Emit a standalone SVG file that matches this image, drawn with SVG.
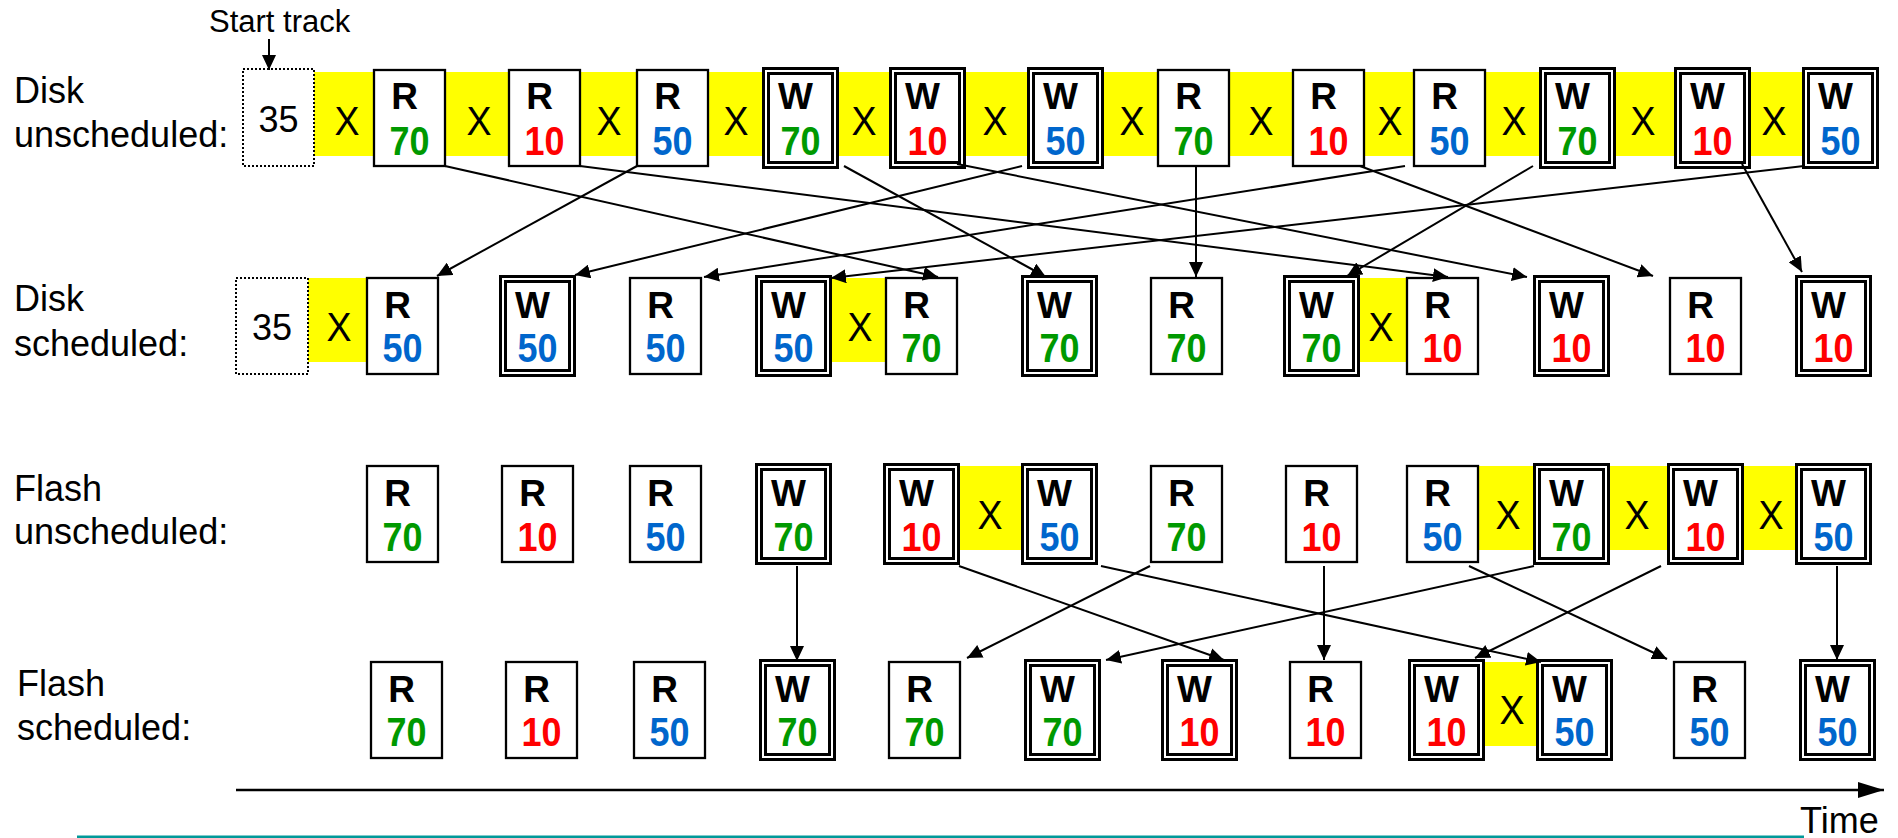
<svg xmlns="http://www.w3.org/2000/svg" width="1898" height="838" viewBox="0 0 1898 838">
<defs>
<marker id="ah" markerUnits="userSpaceOnUse" markerWidth="15" markerHeight="14" refX="15" refY="7" orient="auto"><path d="M0,0 L15,7 L0,14 z" fill="#000"/></marker>
<marker id="ahT" markerUnits="userSpaceOnUse" markerWidth="26" markerHeight="16" refX="26" refY="8" orient="auto"><path d="M0,0 L26,8 L0,16 z" fill="#000"/></marker>
</defs>
<style>
.lbl{font-family:"Liberation Sans",Arial,sans-serif;font-size:36px;fill:#000}
.st{font-size:31px}
.rb{fill:#fff;stroke:#000;stroke-width:2.3}
.wo{fill:#fff;stroke:#000;stroke-width:8}
.wi{fill:none;stroke:#fff;stroke-width:2}
.dot{fill:#fff;stroke:#000;stroke-width:2;stroke-dasharray:2 2}
.yl{fill:#ffff00}
.op{font-family:"Liberation Sans",Arial,sans-serif;font-weight:bold;font-size:37px;text-anchor:middle;fill:#000}
.num{font-family:"Liberation Sans",Arial,sans-serif;font-weight:bold;font-size:40px;text-anchor:middle}
.g{fill:#009900}.r{fill:#ff0000}.b{fill:#0066cc}
.x{font-family:"Liberation Sans",Arial,sans-serif;font-size:40px;text-anchor:middle;fill:#000}
.n35{font-family:"Liberation Sans",Arial,sans-serif;font-size:36px;text-anchor:middle;fill:#000}
.cn{stroke:#000;stroke-width:2;fill:none;marker-end:url(#ah)}
</style>
<rect width="1898" height="838" fill="#fff"/>

<g id="labels">
<text class="lbl st" x="209" y="32">Start track</text>
<text class="lbl" x="14" y="103">Disk</text>
<text class="lbl" x="14" y="147">unscheduled:</text>
<text class="lbl" x="14" y="311">Disk</text>
<text class="lbl" x="14" y="356">scheduled:</text>
<text class="lbl" x="14" y="501">Flash</text>
<text class="lbl" x="14" y="544">unscheduled:</text>
<text class="lbl" x="17" y="696">Flash</text>
<text class="lbl" x="17" y="740">scheduled:</text>
<text class="lbl" x="1800" y="833">Time</text>
</g>

<g id="seeks">
<rect class="yl" x="314" y="72" width="1565" height="84"/>
<rect class="yl" x="308" y="278" width="59" height="84"/>
<rect class="yl" x="832" y="278" width="54" height="84"/>
<rect class="yl" x="1360" y="278" width="47" height="84"/>
<rect class="yl" x="960" y="466" width="61" height="84"/>
<rect class="yl" x="1478" y="466" width="317" height="84"/>
<rect class="yl" x="1485" y="662" width="51" height="84"/>
<text class="x" x="347" y="135" textLength="25" lengthAdjust="spacingAndGlyphs">X</text>
<text class="x" x="479" y="135" textLength="25" lengthAdjust="spacingAndGlyphs">X</text>
<text class="x" x="609" y="135" textLength="25" lengthAdjust="spacingAndGlyphs">X</text>
<text class="x" x="736" y="135" textLength="25" lengthAdjust="spacingAndGlyphs">X</text>
<text class="x" x="864" y="135" textLength="25" lengthAdjust="spacingAndGlyphs">X</text>
<text class="x" x="995" y="135" textLength="25" lengthAdjust="spacingAndGlyphs">X</text>
<text class="x" x="1132" y="135" textLength="25" lengthAdjust="spacingAndGlyphs">X</text>
<text class="x" x="1261" y="135" textLength="25" lengthAdjust="spacingAndGlyphs">X</text>
<text class="x" x="1390" y="135" textLength="25" lengthAdjust="spacingAndGlyphs">X</text>
<text class="x" x="1514" y="135" textLength="25" lengthAdjust="spacingAndGlyphs">X</text>
<text class="x" x="1643" y="135" textLength="25" lengthAdjust="spacingAndGlyphs">X</text>
<text class="x" x="1774" y="135" textLength="25" lengthAdjust="spacingAndGlyphs">X</text>
<text class="x" x="339" y="341" textLength="25" lengthAdjust="spacingAndGlyphs">X</text>
<text class="x" x="860" y="341" textLength="25" lengthAdjust="spacingAndGlyphs">X</text>
<text class="x" x="1381" y="341" textLength="25" lengthAdjust="spacingAndGlyphs">X</text>
<text class="x" x="990" y="529" textLength="25" lengthAdjust="spacingAndGlyphs">X</text>
<text class="x" x="1508" y="529" textLength="25" lengthAdjust="spacingAndGlyphs">X</text>
<text class="x" x="1637" y="529" textLength="25" lengthAdjust="spacingAndGlyphs">X</text>
<text class="x" x="1771" y="529" textLength="25" lengthAdjust="spacingAndGlyphs">X</text>
<text class="x" x="1512" y="724" textLength="25" lengthAdjust="spacingAndGlyphs">X</text>
</g>

<g id="start1"><rect class="dot" x="243" y="69" width="71" height="97"/><text class="n35" x="278.5" y="132">35</text></g>
<g id="start2"><rect class="dot" x="236" y="278" width="72" height="96"/><text class="n35" x="272" y="340">35</text></g>

<!-- Row 1: Disk unscheduled -->
<g id="d1-1"><rect class="rb" x="374" y="70" width="71" height="96"/><text class="op" x="404.5" y="109">R</text><text class="num g" x="409.5" y="155" textLength="40" lengthAdjust="spacingAndGlyphs">70</text></g>
<g id="d1-2"><rect class="rb" x="509" y="70" width="71" height="96"/><text class="op" x="539.5" y="109">R</text><text class="num r" x="544.5" y="155" textLength="40" lengthAdjust="spacingAndGlyphs">10</text></g>
<g id="d1-3"><rect class="rb" x="637" y="70" width="71" height="96"/><text class="op" x="667.5" y="109">R</text><text class="num b" x="672.5" y="155" textLength="40" lengthAdjust="spacingAndGlyphs">50</text></g>
<g id="d1-4"><rect class="wo" x="766" y="71" width="69" height="94"/><rect class="wi" x="766" y="71" width="69" height="94"/><text class="op" x="795.5" y="109">W</text><text class="num g" x="800.5" y="155" textLength="40" lengthAdjust="spacingAndGlyphs">70</text></g>
<g id="d1-5"><rect class="wo" x="893" y="71" width="69" height="94"/><rect class="wi" x="893" y="71" width="69" height="94"/><text class="op" x="922.5" y="109">W</text><text class="num r" x="927.5" y="155" textLength="40" lengthAdjust="spacingAndGlyphs">10</text></g>
<g id="d1-6"><rect class="wo" x="1031" y="71" width="69" height="94"/><rect class="wi" x="1031" y="71" width="69" height="94"/><text class="op" x="1060.5" y="109">W</text><text class="num b" x="1065.5" y="155" textLength="40" lengthAdjust="spacingAndGlyphs">50</text></g>
<g id="d1-7"><rect class="rb" x="1158" y="70" width="71" height="96"/><text class="op" x="1188.5" y="109">R</text><text class="num g" x="1193.5" y="155" textLength="40" lengthAdjust="spacingAndGlyphs">70</text></g>
<g id="d1-8"><rect class="rb" x="1293" y="70" width="71" height="96"/><text class="op" x="1323.5" y="109">R</text><text class="num r" x="1328.5" y="155" textLength="40" lengthAdjust="spacingAndGlyphs">10</text></g>
<g id="d1-9"><rect class="rb" x="1414" y="70" width="71" height="96"/><text class="op" x="1444.5" y="109">R</text><text class="num b" x="1449.5" y="155" textLength="40" lengthAdjust="spacingAndGlyphs">50</text></g>
<g id="d1-10"><rect class="wo" x="1543" y="71" width="69" height="94"/><rect class="wi" x="1543" y="71" width="69" height="94"/><text class="op" x="1572.5" y="109">W</text><text class="num g" x="1577.5" y="155" textLength="40" lengthAdjust="spacingAndGlyphs">70</text></g>
<g id="d1-11"><rect class="wo" x="1678" y="71" width="69" height="94"/><rect class="wi" x="1678" y="71" width="69" height="94"/><text class="op" x="1707.5" y="109">W</text><text class="num r" x="1712.5" y="155" textLength="40" lengthAdjust="spacingAndGlyphs">10</text></g>
<g id="d1-12"><rect class="wo" x="1806" y="71" width="69" height="94"/><rect class="wi" x="1806" y="71" width="69" height="94"/><text class="op" x="1835.5" y="109">W</text><text class="num b" x="1840.5" y="155" textLength="40" lengthAdjust="spacingAndGlyphs">50</text></g>

<!-- Row 2: Disk scheduled -->
<g id="d2-1"><rect class="rb" x="367" y="278" width="71" height="96"/><text class="op" x="397.5" y="318">R</text><text class="num b" x="402.5" y="362" textLength="40" lengthAdjust="spacingAndGlyphs">50</text></g>
<g id="d2-2"><rect class="wo" x="503" y="279" width="69" height="94"/><rect class="wi" x="503" y="279" width="69" height="94"/><text class="op" x="532.5" y="318">W</text><text class="num b" x="537.5" y="362" textLength="40" lengthAdjust="spacingAndGlyphs">50</text></g>
<g id="d2-3"><rect class="rb" x="630" y="278" width="71" height="96"/><text class="op" x="660.5" y="318">R</text><text class="num b" x="665.5" y="362" textLength="40" lengthAdjust="spacingAndGlyphs">50</text></g>
<g id="d2-4"><rect class="wo" x="759" y="279" width="69" height="94"/><rect class="wi" x="759" y="279" width="69" height="94"/><text class="op" x="788.5" y="318">W</text><text class="num b" x="793.5" y="362" textLength="40" lengthAdjust="spacingAndGlyphs">50</text></g>
<g id="d2-5"><rect class="rb" x="886" y="278" width="71" height="96"/><text class="op" x="916.5" y="318">R</text><text class="num g" x="921.5" y="362" textLength="40" lengthAdjust="spacingAndGlyphs">70</text></g>
<g id="d2-6"><rect class="wo" x="1025" y="279" width="69" height="94"/><rect class="wi" x="1025" y="279" width="69" height="94"/><text class="op" x="1054.5" y="318">W</text><text class="num g" x="1059.5" y="362" textLength="40" lengthAdjust="spacingAndGlyphs">70</text></g>
<g id="d2-7"><rect class="rb" x="1151" y="278" width="71" height="96"/><text class="op" x="1181.5" y="318">R</text><text class="num g" x="1186.5" y="362" textLength="40" lengthAdjust="spacingAndGlyphs">70</text></g>
<g id="d2-8"><rect class="wo" x="1287" y="279" width="69" height="94"/><rect class="wi" x="1287" y="279" width="69" height="94"/><text class="op" x="1316.5" y="318">W</text><text class="num g" x="1321.5" y="362" textLength="40" lengthAdjust="spacingAndGlyphs">70</text></g>
<g id="d2-9"><rect class="rb" x="1407" y="278" width="71" height="96"/><text class="op" x="1437.5" y="318">R</text><text class="num r" x="1442.5" y="362" textLength="40" lengthAdjust="spacingAndGlyphs">10</text></g>
<g id="d2-10"><rect class="wo" x="1537" y="279" width="69" height="94"/><rect class="wi" x="1537" y="279" width="69" height="94"/><text class="op" x="1566.5" y="318">W</text><text class="num r" x="1571.5" y="362" textLength="40" lengthAdjust="spacingAndGlyphs">10</text></g>
<g id="d2-11"><rect class="rb" x="1670" y="278" width="71" height="96"/><text class="op" x="1700.5" y="318">R</text><text class="num r" x="1705.5" y="362" textLength="40" lengthAdjust="spacingAndGlyphs">10</text></g>
<g id="d2-12"><rect class="wo" x="1799" y="279" width="69" height="94"/><rect class="wi" x="1799" y="279" width="69" height="94"/><text class="op" x="1828.5" y="318">W</text><text class="num r" x="1833.5" y="362" textLength="40" lengthAdjust="spacingAndGlyphs">10</text></g>

<!-- Row 3: Flash unscheduled -->
<g id="f1-1"><rect class="rb" x="367" y="466" width="71" height="96"/><text class="op" x="397.5" y="506">R</text><text class="num g" x="402.5" y="551" textLength="40" lengthAdjust="spacingAndGlyphs">70</text></g>
<g id="f1-2"><rect class="rb" x="502" y="466" width="71" height="96"/><text class="op" x="532.5" y="506">R</text><text class="num r" x="537.5" y="551" textLength="40" lengthAdjust="spacingAndGlyphs">10</text></g>
<g id="f1-3"><rect class="rb" x="630" y="466" width="71" height="96"/><text class="op" x="660.5" y="506">R</text><text class="num b" x="665.5" y="551" textLength="40" lengthAdjust="spacingAndGlyphs">50</text></g>
<g id="f1-4"><rect class="wo" x="759" y="467" width="69" height="94"/><rect class="wi" x="759" y="467" width="69" height="94"/><text class="op" x="788.5" y="506">W</text><text class="num g" x="793.5" y="551" textLength="40" lengthAdjust="spacingAndGlyphs">70</text></g>
<g id="f1-5"><rect class="wo" x="887" y="467" width="69" height="94"/><rect class="wi" x="887" y="467" width="69" height="94"/><text class="op" x="916.5" y="506">W</text><text class="num r" x="921.5" y="551" textLength="40" lengthAdjust="spacingAndGlyphs">10</text></g>
<g id="f1-6"><rect class="wo" x="1025" y="467" width="69" height="94"/><rect class="wi" x="1025" y="467" width="69" height="94"/><text class="op" x="1054.5" y="506">W</text><text class="num b" x="1059.5" y="551" textLength="40" lengthAdjust="spacingAndGlyphs">50</text></g>
<g id="f1-7"><rect class="rb" x="1151" y="466" width="71" height="96"/><text class="op" x="1181.5" y="506">R</text><text class="num g" x="1186.5" y="551" textLength="40" lengthAdjust="spacingAndGlyphs">70</text></g>
<g id="f1-8"><rect class="rb" x="1286" y="466" width="71" height="96"/><text class="op" x="1316.5" y="506">R</text><text class="num r" x="1321.5" y="551" textLength="40" lengthAdjust="spacingAndGlyphs">10</text></g>
<g id="f1-9"><rect class="rb" x="1407" y="466" width="71" height="96"/><text class="op" x="1437.5" y="506">R</text><text class="num b" x="1442.5" y="551" textLength="40" lengthAdjust="spacingAndGlyphs">50</text></g>
<g id="f1-10"><rect class="wo" x="1537" y="467" width="69" height="94"/><rect class="wi" x="1537" y="467" width="69" height="94"/><text class="op" x="1566.5" y="506">W</text><text class="num g" x="1571.5" y="551" textLength="40" lengthAdjust="spacingAndGlyphs">70</text></g>
<g id="f1-11"><rect class="wo" x="1671" y="467" width="69" height="94"/><rect class="wi" x="1671" y="467" width="69" height="94"/><text class="op" x="1700.5" y="506">W</text><text class="num r" x="1705.5" y="551" textLength="40" lengthAdjust="spacingAndGlyphs">10</text></g>
<g id="f1-12"><rect class="wo" x="1799" y="467" width="69" height="94"/><rect class="wi" x="1799" y="467" width="69" height="94"/><text class="op" x="1828.5" y="506">W</text><text class="num b" x="1833.5" y="551" textLength="40" lengthAdjust="spacingAndGlyphs">50</text></g>

<!-- Row 4: Flash scheduled -->
<g id="f2-1"><rect class="rb" x="371" y="662" width="71" height="96"/><text class="op" x="401.5" y="702">R</text><text class="num g" x="406.5" y="746" textLength="40" lengthAdjust="spacingAndGlyphs">70</text></g>
<g id="f2-2"><rect class="rb" x="506" y="662" width="71" height="96"/><text class="op" x="536.5" y="702">R</text><text class="num r" x="541.5" y="746" textLength="40" lengthAdjust="spacingAndGlyphs">10</text></g>
<g id="f2-3"><rect class="rb" x="634" y="662" width="71" height="96"/><text class="op" x="664.5" y="702">R</text><text class="num b" x="669.5" y="746" textLength="40" lengthAdjust="spacingAndGlyphs">50</text></g>
<g id="f2-4"><rect class="wo" x="763" y="663" width="69" height="94"/><rect class="wi" x="763" y="663" width="69" height="94"/><text class="op" x="792.5" y="702">W</text><text class="num g" x="797.5" y="746" textLength="40" lengthAdjust="spacingAndGlyphs">70</text></g>
<g id="f2-5"><rect class="rb" x="889" y="662" width="71" height="96"/><text class="op" x="919.5" y="702">R</text><text class="num g" x="924.5" y="746" textLength="40" lengthAdjust="spacingAndGlyphs">70</text></g>
<g id="f2-6"><rect class="wo" x="1028" y="663" width="69" height="94"/><rect class="wi" x="1028" y="663" width="69" height="94"/><text class="op" x="1057.5" y="702">W</text><text class="num g" x="1062.5" y="746" textLength="40" lengthAdjust="spacingAndGlyphs">70</text></g>
<g id="f2-7"><rect class="wo" x="1165" y="663" width="69" height="94"/><rect class="wi" x="1165" y="663" width="69" height="94"/><text class="op" x="1194.5" y="702">W</text><text class="num r" x="1199.5" y="746" textLength="40" lengthAdjust="spacingAndGlyphs">10</text></g>
<g id="f2-8"><rect class="rb" x="1290" y="662" width="71" height="96"/><text class="op" x="1320.5" y="702">R</text><text class="num r" x="1325.5" y="746" textLength="40" lengthAdjust="spacingAndGlyphs">10</text></g>
<g id="f2-9"><rect class="wo" x="1412" y="663" width="69" height="94"/><rect class="wi" x="1412" y="663" width="69" height="94"/><text class="op" x="1441.5" y="702">W</text><text class="num r" x="1446.5" y="746" textLength="40" lengthAdjust="spacingAndGlyphs">10</text></g>
<g id="f2-10"><rect class="wo" x="1540" y="663" width="69" height="94"/><rect class="wi" x="1540" y="663" width="69" height="94"/><text class="op" x="1569.5" y="702">W</text><text class="num b" x="1574.5" y="746" textLength="40" lengthAdjust="spacingAndGlyphs">50</text></g>
<g id="f2-11"><rect class="rb" x="1674" y="662" width="71" height="96"/><text class="op" x="1704.5" y="702">R</text><text class="num b" x="1709.5" y="746" textLength="40" lengthAdjust="spacingAndGlyphs">50</text></g>
<g id="f2-12"><rect class="wo" x="1803" y="663" width="69" height="94"/><rect class="wi" x="1803" y="663" width="69" height="94"/><text class="op" x="1832.5" y="702">W</text><text class="num b" x="1837.5" y="746" textLength="40" lengthAdjust="spacingAndGlyphs">50</text></g>

<g id="connectors">
<line class="cn" x1="269" y1="39" x2="269" y2="70"/>
<line class="cn" x1="445" y1="166" x2="938" y2="277"/>
<line class="cn" x1="580" y1="166" x2="1448" y2="277"/>
<line class="cn" x1="637" y1="166" x2="437" y2="276"/>
<line class="cn" x1="844" y1="166" x2="1046" y2="277"/>
<line class="cn" x1="957" y1="164" x2="1527" y2="277"/>
<line class="cn" x1="1022" y1="166" x2="575" y2="275"/>
<line class="cn" x1="1196" y1="166" x2="1196" y2="277"/>
<line class="cn" x1="1360" y1="166" x2="1653" y2="276"/>
<line class="cn" x1="1405" y1="166" x2="704" y2="277"/>
<line class="cn" x1="1533" y1="166" x2="1347" y2="276"/>
<line class="cn" x1="1742" y1="164" x2="1802" y2="272"/>
<line class="cn" x1="1804" y1="166" x2="831" y2="278"/>
<line class="cn" x1="797" y1="566" x2="797" y2="661"/>
<line class="cn" x1="959" y1="566" x2="1224" y2="660"/>
<line class="cn" x1="1101" y1="566" x2="1541" y2="662"/>
<line class="cn" x1="1150" y1="566" x2="967" y2="658"/>
<line class="cn" x1="1324" y1="566" x2="1324" y2="660"/>
<line class="cn" x1="1469" y1="566" x2="1667" y2="659"/>
<line class="cn" x1="1534" y1="566" x2="1106" y2="660"/>
<line class="cn" x1="1661" y1="566" x2="1475" y2="658"/>
<line class="cn" x1="1837" y1="566" x2="1837" y2="660"/>
<line x1="236" y1="790" x2="1884" y2="790" stroke="#000" stroke-width="2.5" marker-end="url(#ahT)"/>
</g>
<line x1="77" y1="837" x2="1804" y2="837" stroke="#009999" stroke-width="3"/>
</svg>
